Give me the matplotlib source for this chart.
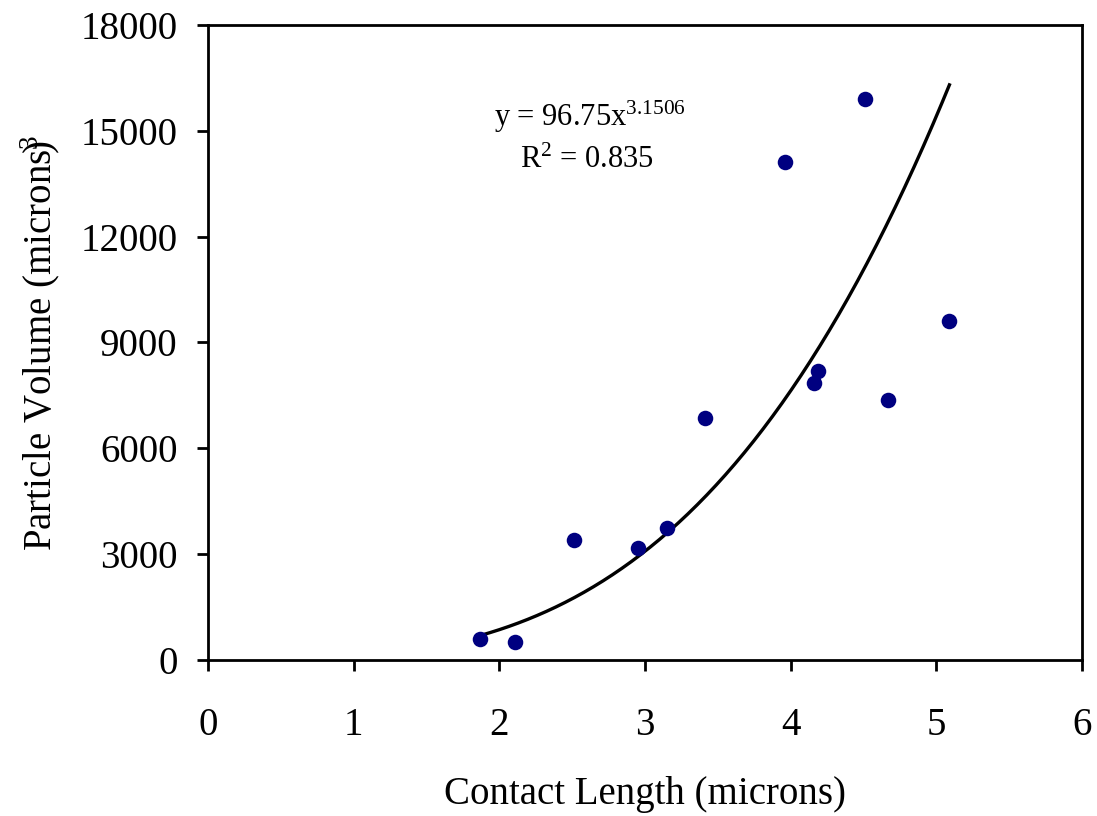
import numpy as np
import matplotlib
matplotlib.use("Agg")
import matplotlib.pyplot as plt

plt.rcParams['font.family'] = ['Liberation Serif', 'DejaVu Serif']
plt.rcParams['mathtext.fontset'] = 'custom'
plt.rcParams['mathtext.rm'] = 'Liberation Serif'
plt.rcParams['mathtext.default'] = 'regular'

# Data
contact_length = [1.87, 2.11, 2.51, 2.95, 3.15, 3.41, 3.96, 4.51, 4.16, 4.19, 4.67, 5.09]
particle_volume = [600, 510, 3400, 3175, 3730, 6850, 14120, 15900, 7850, 8180, 7360, 9600]

# Power trendline coefficients shown on the chart
coef_a = 96.75
coef_b = 3.1506
r_squared = 0.835

x_ticks = [0, 1, 2, 3, 4, 5, 6]
y_ticks = [0, 3000, 6000, 9000, 12000, 15000, 18000]

fig = plt.figure(figsize=(10.97, 8.16), dpi=100)
ax = fig.add_axes([0.1896, 0.1912, 0.7967, 0.7782])

xs = np.linspace(min(contact_length), max(contact_length), 200)
ax.plot(xs, coef_a * xs ** coef_b, color='black', lw=2.4, zorder=2)
ax.scatter(contact_length, particle_volume, s=125, color='#000080', zorder=3, linewidths=0)

ax.set_xlim(0, 6)
ax.set_ylim(0, 18000)
ax.set_xticks(x_ticks)
ax.set_yticks(y_ticks)
ax.tick_params(direction='out', length=8, width=2, labelsize=28, pad=14)
ax.tick_params(axis='x', pad=26)
for s in ax.spines.values():
    s.set_linewidth(2)

ax.set_xlabel('Contact Length (microns)', fontsize=28)
ax.set_ylabel(r'Particle Volume (microns$^{3}\!\!\!$)', fontsize=28)
ax.xaxis.set_label_coords(0.5, -0.2126)
ax.xaxis.label.set_va('center')
ax.yaxis.set_label_coords(-0.192, 0.5)
ax.yaxis.label.set_va('center')

ax.text(2.62, 15390, 'y = %.2fx$^{%.4f}$' % (coef_a, coef_b), fontsize=22,
        ha='center', va='center')
ax.text(2.60, 14170, 'R$^2$ = %.3f' % r_squared, fontsize=22, ha='center', va='center')

fig.savefig('out.png', dpi=100)
